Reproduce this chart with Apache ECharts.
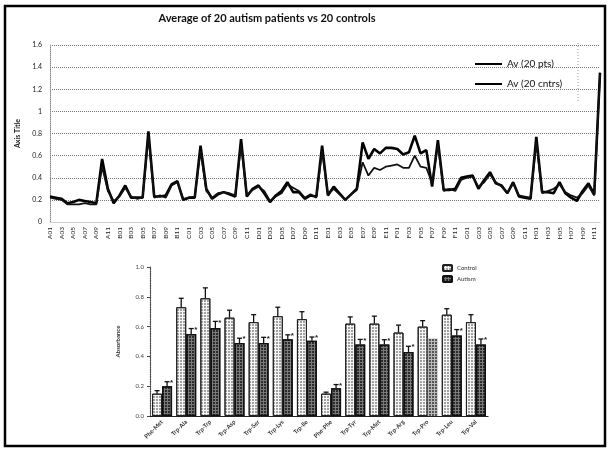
<!DOCTYPE html>
<html><head><meta charset="utf-8">
<script src="https://cdn.jsdelivr.net/npm/echarts@6/dist/echarts.min.js"></script>
<style>html,body{margin:0;padding:0;background:#fff}#c{width:609px;height:452px}</style>
</head><body><div id="c"></div>
<script>
// ---- top chart: 96 wells ----
const wells = ["A01","A02","A03","A04","A05","A06","A07","A08","A09","A10","A11","A12",
"B01","B02","B03","B04","B05","B06","B07","B08","B09","B10","B11","B12",
"C01","C02","C03","C04","C05","C06","C07","C08","C09","C10","C11","C12",
"D01","D02","D03","D04","D05","D06","D07","D08","D09","D10","D11","D12",
"E01","E02","E03","E04","E05","E06","E07","E08","E09","E10","E11","E12",
"F01","F02","F03","F04","F05","F06","F07","F08","F09","F10","F11","F12",
"G01","G02","G03","G04","G05","G06","G07","G08","G09","G10","G11","G12",
"H01","H02","H03","H04","H05","H06","H07","H08","H09","H10","H11","H12"];
const avPts = [0.23,0.22,0.21,0.17,0.18,0.20,0.19,0.18,0.17,0.57,0.30,0.17,
0.24,0.33,0.22,0.22,0.22,0.82,0.23,0.23,0.24,0.34,0.37,0.20,
0.22,0.22,0.69,0.30,0.21,0.25,0.27,0.25,0.23,0.75,0.23,0.30,
0.33,0.26,0.18,0.24,0.28,0.36,0.27,0.27,0.21,0.24,0.23,0.69,
0.24,0.32,0.26,0.20,0.25,0.30,0.72,0.57,0.66,0.62,0.67,0.67,
0.66,0.61,0.63,0.78,0.62,0.65,0.32,0.74,0.29,0.29,0.30,0.40,
0.41,0.42,0.30,0.38,0.45,0.35,0.33,0.26,0.36,0.23,0.22,0.21,
0.77,0.27,0.27,0.26,0.36,0.26,0.22,0.19,0.28,0.35,0.25,1.35];
const avCntrs = [0.22,0.21,0.20,0.16,0.16,0.16,0.17,0.16,0.16,0.50,0.28,0.19,
0.23,0.31,0.23,0.21,0.22,0.78,0.22,0.24,0.22,0.33,0.36,0.21,
0.22,0.23,0.64,0.28,0.22,0.26,0.27,0.26,0.24,0.70,0.24,0.29,
0.32,0.28,0.19,0.23,0.26,0.34,0.31,0.28,0.22,0.25,0.22,0.64,
0.25,0.30,0.25,0.20,0.25,0.29,0.54,0.42,0.49,0.47,0.50,0.51,
0.52,0.49,0.49,0.60,0.50,0.49,0.35,0.70,0.28,0.30,0.28,0.38,
0.40,0.41,0.32,0.36,0.43,0.36,0.32,0.26,0.35,0.24,0.23,0.22,
0.72,0.26,0.28,0.30,0.34,0.27,0.24,0.22,0.26,0.33,0.24,1.33];

// ---- bottom chart ----
const peptides = ["Phe-Met","Trp-Ala","Trp-Trp","Trp-Asp","Trp-Ser","Trp-Lys","Trp-Ile","Phe-Phe","Trp-Tyr","Trp-Met","Trp-Arg","Trp-Pro","Trp-Leu","Trp-Val"];
const controlVals = [0.15,0.73,0.79,0.66,0.63,0.67,0.65,0.15,0.62,0.62,0.56,0.60,0.68,0.63];
const controlErr  = [0.02,0.06,0.07,0.05,0.05,0.06,0.05,0.01,0.045,0.05,0.05,0.04,0.04,0.05];
const autismVals  = [0.20,0.55,0.59,0.49,0.49,0.515,0.505,0.186,0.48,0.48,0.43,0.52,0.54,0.48];
const autismErr   = [0.03,0.037,0.045,0.032,0.038,0.03,0.025,0.025,0.034,0.032,0.038,0,0.04,0.037];

const FONT = 'Lato, "Liberation Sans", sans-serif';

function errRender(offset, star) {
  return function (params, api) {
    const i = api.value(0), v = api.value(1), e = api.value(2);
    if (!e) return null;
    const p0 = api.coord([i, v]);
    const p1 = api.coord([i, v + e]);
    const x = p0[0] + offset;
    const ch = [
      {type:'line', shape:{x1:x,y1:p0[1],x2:x,y2:p1[1]}, style:{stroke:'#111',lineWidth:1.3}},
      {type:'line', shape:{x1:x-2.5,y1:p1[1],x2:x+2.5,y2:p1[1]}, style:{stroke:'#111',lineWidth:1.3}}
    ];
    if (star) ch.push({type:'text', style:{x:x+3, y:p1[1]+1, text:'*', font:'bold 8px sans-serif', fill:'#222', verticalAlign:'middle'}});
    return {type:'group', children: ch};
  };
}

const chart = echarts.init(document.getElementById('c'));
chart.setOption({
  backgroundColor:'#fff',
  animation:false,
  textStyle:{fontFamily:FONT},
  title:{text:'Average of 20 autism patients vs 20 controls', left:262, top:8, textAlign:'center',
    textStyle:{fontSize:11, fontWeight:'bold', color:'#111', fontFamily:FONT}},
  legend:[
    {data:['Av (20 pts)','Av (20 cntrs)'], orient:'vertical', left:470, top:54, itemGap:10,
     icon:'rect', itemWidth:27, itemHeight:2, textStyle:{fontSize:10, color:'#111'}},
    {data:['Control','Autism'], orient:'vertical', left:437, top:259, itemGap:3,
     itemWidth:9, itemHeight:6, textStyle:{fontSize:6, color:'#333'}}
  ],
  grid:[
    {left:50, right:9, top:45, bottom:230},
    {left:150, right:121, top:267, bottom:36}
  ],
  xAxis:[
    {type:'category', gridIndex:0, data:wells, boundaryGap:false,
     axisLine:{lineStyle:{color:'#ccc'}}, axisTick:{show:false},
     axisLabel:{interval:1, rotate:90, fontSize:6.5, color:'#222', margin:5}},
    {type:'category', gridIndex:1, data:peptides, boundaryGap:true,
     axisLine:{lineStyle:{color:'#222', width:1.2}}, axisTick:{show:false},
     axisLabel:{interval:0, rotate:45, fontSize:6, fontWeight:'bold', color:'#333', margin:5}}
  ],
  yAxis:[
    {type:'value', gridIndex:0, min:0, max:1.6, interval:0.2,
     name:'Axis Title', nameLocation:'middle', nameRotate:90, nameGap:27,
     nameTextStyle:{fontSize:7, fontWeight:'bold', color:'#222'},
     axisLine:{show:true, lineStyle:{color:'#888', type:'dotted'}}, axisTick:{show:false},
     axisLabel:{fontSize:7, color:'#222', margin:8},
     splitLine:{lineStyle:{color:'#777', type:'dotted'}}},
    {type:'value', gridIndex:1, min:0, max:1, interval:0.2,
     name:'Absorbance', nameLocation:'middle', nameRotate:90, nameGap:29,
     nameTextStyle:{fontSize:6, fontWeight:'bold', color:'#333'},
     axisLine:{show:true, lineStyle:{color:'#444', type:'dotted', width:1.2}},
     axisTick:{show:true, length:3, lineStyle:{color:'#444'}},
     axisLabel:{fontSize:6, color:'#444', margin:6, formatter:v=>v.toFixed(1)},
     splitLine:{show:false}}
  ],
  series:[
    {name:'Av (20 pts)', type:'line', xAxisIndex:0, yAxisIndex:0, data:avPts, showSymbol:false,
     color:'#000', lineStyle:{color:'#000', width:2.6}},
    {name:'Av (20 cntrs)', type:'line', xAxisIndex:0, yAxisIndex:0, data:avCntrs, showSymbol:false,
     color:'#000', lineStyle:{color:'#111', width:1.8}},
    {name:'Control', type:'bar', xAxisIndex:1, yAxisIndex:1, data:controlVals, barWidth:10, barGap:'0%',
     itemStyle:{color:'#f6f6f6', borderColor:'#222', borderWidth:1,
       decal:{symbol:'circle', symbolSize:1, dashArrayX:[2,1], dashArrayY:[2,1], color:'rgba(40,40,40,0.55)'}}},
    {name:'Autism', type:'bar', xAxisIndex:1, yAxisIndex:1, barWidth:10, barGap:'0%',
     data:autismVals.map((v,i)=> i===11 ? {value:v, itemStyle:{color:'#a8a8a8', borderWidth:0, opacity:0.8}} : v),
     itemStyle:{color:'#7a7a7a', borderColor:'#111', borderWidth:1.3,
       decal:{symbol:'rect', symbolSize:1, dashArrayX:[2,1], dashArrayY:[2,1], color:'rgba(10,10,10,0.7)'}}},
    {type:'custom', xAxisIndex:1, yAxisIndex:1, renderItem:errRender(-5,false), z:5,
     data:controlVals.map((v,i)=>[i,v,controlErr[i]])},
    {type:'custom', xAxisIndex:1, yAxisIndex:1, renderItem:errRender(5,true), z:5,
     data:autismVals.map((v,i)=>[i,v,autismErr[i]])}
  ],
  graphic:[
    {type:'rect', shape:{x:5,y:6,width:600,height:440}, style:{fill:'none', stroke:'#000', lineWidth:2.5}, z:100},
    {type:'line', shape:{x1:578,y1:43,x2:578,y2:103}, style:{stroke:'#999', lineDash:[1,2], lineWidth:1}, z:100}
  ]
});
</script>
</body></html>
